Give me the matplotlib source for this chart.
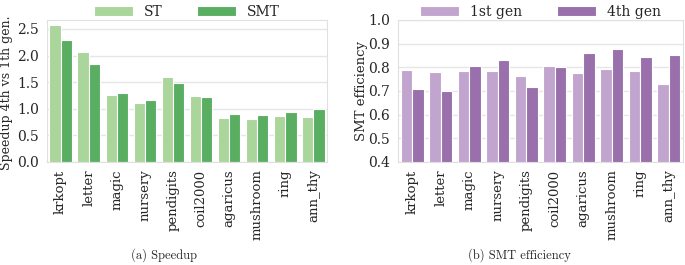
import numpy as np
import matplotlib
matplotlib.use("Agg")
import matplotlib.pyplot as plt
import seaborn as sns

datasets = ["krkopt", "letter", "magic", "nursery", "pendigits", "coil2000",
            "agaricus", "mushroom", "ring", "ann_thy"]
speedup_st = [2.57, 2.06, 1.26, 1.10, 1.59, 1.23, 0.82, 0.80, 0.86, 0.85]
speedup_smt = [2.29, 1.84, 1.29, 1.16, 1.49, 1.22, 0.91, 0.88, 0.93, 1.00]
eff_1st = [0.790, 0.780, 0.785, 0.783, 0.763, 0.805, 0.776, 0.792, 0.785, 0.730]
eff_4th = [0.707, 0.698, 0.805, 0.830, 0.716, 0.801, 0.860, 0.875, 0.845, 0.853]

sns.set_style("whitegrid")
plt.rcParams['font.family'] = ['DejaVu Serif']

fig = plt.figure(figsize=(6.85, 2.65), dpi=100)
ax1 = fig.add_axes([0.068, 0.389, 0.41, 0.536])
ax2 = fig.add_axes([0.581, 0.389, 0.416, 0.536])

x = np.arange(len(datasets))
w = 0.4

def draw(ax, a, b, colors, labels):
    ax.bar(x - w / 2, a, w, color=colors[0], edgecolor="white", linewidth=0.8, label=labels[0])
    ax.bar(x + w / 2, b, w, color=colors[1], edgecolor="white", linewidth=0.8, label=labels[1])
    ax.set_xticks(x)
    ax.set_xticklabels(datasets, rotation=90, fontsize=9.5)
    ax.set_xlim(-0.5, len(datasets) - 0.5)
    ax.tick_params(axis="y", labelsize=10, pad=2)
    ax.tick_params(axis="x", pad=2)
    ax.grid(axis="x", visible=False)
    ax.grid(axis="y", color="#e6e6e6", linewidth=1)
    for s in ax.spines.values():
        s.set_color("#e0e0e0")
    ax.legend(loc="lower center", bbox_to_anchor=(0.5, 0.97), ncol=2, frameon=False,
              fontsize=10, handlelength=2.8, columnspacing=2.5, borderaxespad=0)

draw(ax1, speedup_st, speedup_smt, ["#aad59b", "#5aae61"], ["ST", "SMT"])
ax1.set_ylim(0, 2.67)
ax1.set_yticks(np.arange(0, 2.51, 0.5))
ax1.set_ylabel("Speedup 4th vs 1th gen.", fontsize=9)
ax1.yaxis.set_label_coords(-0.118, 0.49)

draw(ax2, eff_1st, eff_4th, ["#c2a5cf", "#9970ab"], ["1st gen", "4th gen"])
ax2.set_ylim(0.4, 1.0)
ax2.set_yticks(np.arange(0.4, 1.01, 0.1))
ax2.set_ylabel("SMT efficiency", fontsize=9.5)
ax2.yaxis.set_label_coords(-0.105, 0.5)

fig.text(0.24, 0.025, "(a) Speedup", ha="center", fontsize=9, family="cmr10")
fig.text(0.759, 0.025, "(b) SMT efficiency", ha="center", fontsize=9, family="cmr10")

fig.savefig("out.png", dpi=100)
